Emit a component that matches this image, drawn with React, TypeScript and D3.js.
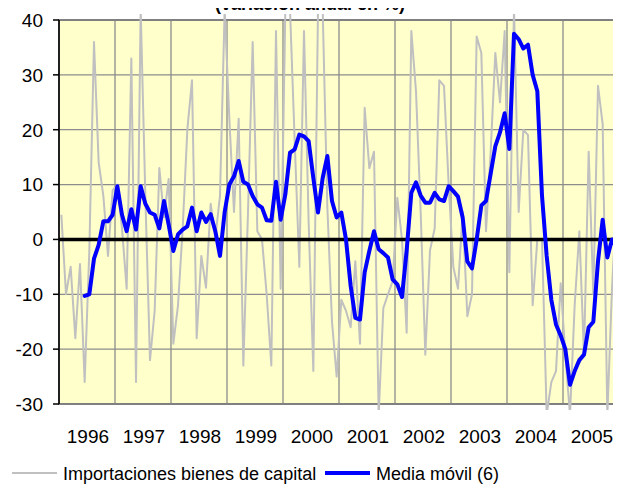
import { useEffect, useRef } from 'react'
import * as d3 from 'd3'

// monthly data, Jan 1996 - Dec 2005
const years = ['1996', '1997', '1998', '1999', '2000', '2001', '2002', '2003', '2004', '2005']
const yTicks = [-30, -20, -10, 0, 10, 20, 30, 40]

// Importaciones bienes de capital (variación anual en %)
const imports = [
  4.5, -10, -5, -18, -4.5, -26, -2, 36, 14, 8, -3, 9,
  10, 2, -9, 33, -26, 42, 8, -22, -13, 13, 4, 11,
  -19, -12, 2, 20, 29, -18, -3, -8.8, 6.5, 0.3, 8, 42,
  22, 5, 22, -23, 5, 36, 1.5, 0, -10, -23, 38, -9,
  42, 42, 18, -5, 38, 3, -24, 42, 42, 6, -15, -25,
  -11, -13, -16, -4, -19, 24, 13, 16, -32, -12.5, -10, -7.6,
  7.6, 0, -17, 38, 27, 5, -21, -2, 2, 29, 28, 10,
  -5, -9, 5, -14, -10, 37, 34, 1.5, 16, 34, 25, 38,
  -6, 42, 5, 20, 19, -12, 0, 0, -32, -26, -24, -8,
  -21, -32, -12, 1.5, -21, 16, -10, 28, 21, -32, -9, 7.6,
]

// Media móvil (6), starts at the 6th month
const movingAvg = [
  -10.3, -10, -3.5, -1, 3.3, 3.3, 4.5,
  9.7, 4.5, 1.5, 5.5, 1.8, 9.7, 6.5, 4.9, 4.5, 2, 7, 2.7,
  -2.1, 0.9, 1.8, 2.4, 5.8, 1.5, 4.9, 3.2, 4.6, 1.5, -3, 5,
  10, 11.5, 14.3, 10.5, 10, 7.9, 6.4, 5.8, 3.5, 3.4, 10.5, 3.6,
  8.2, 15.8, 16.4, 19.1, 18.8, 17.9, 11.2, 4.9, 11.2, 15.2, 7, 4,
  4.9, 0, -8.5, -14.3, -14.6, -6, -2.1, 1.5, -1.8, -2.5, -3.3, -7.3,
  -8.2, -10.5, -2, 8.5, 10.4, 8, 6.7, 6.7, 8.5, 7.3, 7, 9.7,
  8.8, 7.8, 4, -4, -5.3, 0, 6.2, 7, 12, 17, 19.5, 23,
  16.5, 37.5, 36.5, 34.8, 35.5, 30, 27, 8, -3, -11, -15.5, -17.5,
  -20, -26.5, -24, -22, -21, -16, -15, -4, 3.6, -3.3, 0, -1.5,
]
const avgStart = 5

export default function App() {
  const svgRef = useRef<SVGSVGElement>(null)

  useEffect(() => {
    if (!svgRef.current) return
    const width = 621
    const height = 492
    const left = 59
    const right = 619
    const top = 20
    const bottom = 404
    const font = '"Liberation Sans", Arial, sans-serif'

    const svg = d3.select(svgRef.current)
    svg.selectAll('*').remove()
    svg.attr('width', width).attr('height', height)

    const x = d3.scaleLinear().domain([0, imports.length]).range([left, right])
    const y = d3.scaleLinear().domain([-30, 40]).range([bottom, top])

    // Title (cut off at the top, as in the original)
    svg.append('text')
      .attr('x', 310)
      .attr('y', 10)
      .attr('text-anchor', 'middle')
      .style('font-family', font)
      .style('font-size', '18px')
      .style('font-weight', 'bold')
      .text('(variación anual en %)')

    // plot background
    svg.append('rect')
      .attr('x', left).attr('y', top)
      .attr('width', right - left).attr('height', bottom - top)
      .attr('fill', '#FFFFCC')

    // gridlines
    svg.append('g')
      .selectAll('line')
      .data(yTicks)
      .enter()
      .append('line')
      .attr('x1', left).attr('x2', right)
      .attr('y1', d => y(d)).attr('y2', d => y(d))
      .attr('stroke', '#8c8c8c')
      .attr('stroke-width', 1.3)

    svg.append('g')
      .selectAll('line')
      .data(d3.range(1, years.length))
      .enter()
      .append('line')
      .attr('x1', d => x(d * 12)).attr('x2', d => x(d * 12))
      .attr('y1', top).attr('y2', bottom)
      .attr('stroke', '#8c8c8c')
      .attr('stroke-width', 1.3)

    // border
    svg.append('rect')
      .attr('x', left).attr('y', top)
      .attr('width', right - left).attr('height', bottom - top)
      .attr('fill', 'none')
      .attr('stroke', '#808080')
      .attr('stroke-width', 2)

    // clip
    svg.append('clipPath')
      .attr('id', 'clip')
      .append('rect')
      .attr('x', left).attr('y', top - 6)
      .attr('width', right - left).attr('height', bottom - top + 12)

    const line = d3.line<number>()
      .x((d, i) => x(i + 0.5))
      .y(d => y(d))

    svg.append('path')
      .datum(imports)
      .attr('clip-path', 'url(#clip)')
      .attr('d', line)
      .attr('fill', 'none')
      .attr('stroke', '#C0C0C0')
      .attr('stroke-width', 2)
      .attr('stroke-linejoin', 'round')

    // zero line
    svg.append('line')
      .attr('x1', left).attr('x2', right)
      .attr('y1', y(0)).attr('y2', y(0))
      .attr('stroke', '#000')
      .attr('stroke-width', 3.5)

    const avgLine = d3.line<number>()
      .x((d, i) => x(i + avgStart + 0.5))
      .y(d => y(d))

    svg.append('path')
      .datum(movingAvg)
      .attr('d', avgLine)
      .attr('fill', 'none')
      .attr('stroke', '#0000FF')
      .attr('stroke-width', 4)
      .attr('stroke-linejoin', 'round')
      .attr('stroke-linecap', 'round')

    // y axis
    const yAxis = svg.append('g')
    yAxis.append('line')
      .attr('x1', left).attr('x2', left)
      .attr('y1', top).attr('y2', bottom)
      .attr('stroke', '#000')
      .attr('stroke-width', 1.5)
    yTicks.forEach(t => {
      yAxis.append('line')
        .attr('x1', left - 6).attr('x2', left)
        .attr('y1', y(t)).attr('y2', y(t))
        .attr('stroke', '#000')
        .attr('stroke-width', 1.5)
      yAxis.append('text')
        .attr('x', 43)
        .attr('y', y(t))
        .attr('dy', '0.36em')
        .attr('text-anchor', 'end')
        .style('font-family', font)
        .style('font-size', '19px')
        .text(t)
    })

    // x labels
    svg.append('g')
      .selectAll('text')
      .data(years)
      .enter()
      .append('text')
      .attr('x', (d, i) => x(i * 12 + 6.2))
      .attr('y', 443)
      .attr('text-anchor', 'middle')
      .style('font-family', font)
      .style('font-size', '19px')
      .text(d => d)

    // legend
    const legend = svg.append('g')
    const items = [
      { label: 'Importaciones bienes de capital', color: '#C0C0C0', w: 2, x0: 12 },
      { label: 'Media móvil (6)', color: '#0000FF', w: 4, x0: 325 },
    ]
    items.forEach(it => {
      legend.append('line')
        .attr('x1', it.x0).attr('x2', it.x0 + 45)
        .attr('y1', 473).attr('y2', 473)
        .attr('stroke', it.color)
        .attr('stroke-width', it.w)
      legend.append('text')
        .attr('x', it.x0 + 51)
        .attr('y', 480)
        .style('font-family', font)
        .style('font-size', '18px')
        .text(it.label)
    })
  }, [])

  return <svg ref={svgRef} style={{ display: 'block', margin: '-8px' }}></svg>
}
